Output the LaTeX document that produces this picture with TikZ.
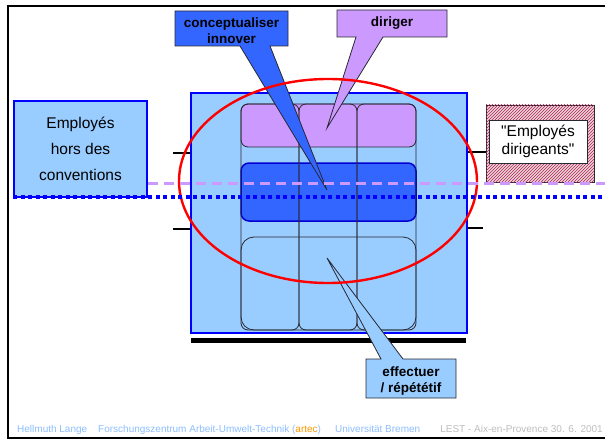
\documentclass[tikz,border=0pt]{standalone}
\usepackage{fontspec}
\setmainfont{Liberation Sans}[Ligatures=TeXOff]
\usepackage{xcolor}
\usepackage{tikz}
\usetikzlibrary{positioning, patterns}
\definecolor{lsBlue}{RGB}{153, 204, 255}
\definecolor{lsDeep}{RGB}{51, 102, 255}
\definecolor{lsLilac}{RGB}{204, 153, 255}
\definecolor{lsPure}{RGB}{0, 0, 255}
\definecolor{lsNavy}{RGB}{0, 0, 210}
\definecolor{lsRed}{RGB}{255, 0, 0}
\definecolor{lsRose}{RGB}{238, 210, 220}
\definecolor{lsHatch}{RGB}{170, 40, 80}
\definecolor{lsEdge}{RGB}{40, 40, 50}
\definecolor{lsFoot}{RGB}{140, 190, 255}
\definecolor{lsOrange}{RGB}{255, 153, 0}
\definecolor{lsGray}{RGB}{190, 190, 190}
\tikzset{
    base/.style={
        font=\fontsize{15.5}{26}\selectfont,
        align=center,
        inner sep=0pt
    },
    panel/.style={
        draw=lsPure,
        line width=1.2pt,
        fill=lsBlue
    },
    column/.style={
        draw=lsEdge,
        line width=0.8pt,
        rounded corners=7pt
    },
    bubble/.style={
        draw=lsEdge,
        line width=0.8pt
    },
    bubbletext/.style={
        font=\bfseries\fontsize{13.5}{16}\selectfont,
        align=center,
        inner sep=0pt
    },
    tick/.style={
        line width=1.6pt,
        color=black
    },
    foot/.style={
        font=\fontsize{10}{12}\selectfont,
        anchor=base west,
        inner sep=0pt
    }
}

\begin{document}
\begin{tikzpicture}[x=1pt, y=-1pt]
  \useasboundingbox (0,0) rectangle (605,441);

  % Frame
  \draw[line width=2pt] (605,6) -- (8,6) -- (8,438) -- (605,438);

  % Outside groups
  \node[panel, base, minimum width=133pt, minimum height=96pt] (hors) at (80.5,149) {Employés\\hors des\\conventions};
  \node[draw=lsEdge, line width=0.8pt, fill=lsRose, minimum width=108pt, minimum height=77pt,
        postaction={pattern=north east lines, pattern color=lsHatch}] (hatch) at (540,143.5) {};
  \node[draw=lsEdge, line width=0.8pt, fill=white, base, font=\fontsize{15.5}{17.5}\selectfont,
        minimum width=98pt, minimum height=43pt] (dirig) at (538,141.5) {"Employés\\dirigeants"};

  % Conventions
  \node[panel, minimum width=276pt, minimum height=240pt] (cadre) at (329,213) {};
  \draw[draw=lsEdge, line width=0.8pt, fill=lsLilac, rounded corners=7pt] (241,104) rectangle (416,147);
  \draw[draw=lsNavy, line width=1.5pt, fill=lsDeep, rounded corners=8pt] (241,163) rectangle (416,221);
  \draw[draw=lsEdge, line width=0.8pt, fill=lsBlue, rounded corners=13pt] (241,237) rectangle (416,330);
  \foreach \xa/\xb in {241/299, 299/357, 357/416}
    \draw[column] (\xa,104) rectangle (\xb,330);

  % Ticks and bar
  \draw[tick] (cadre.west |- 0,153) -- ++(-17,0);
  \draw[tick] (cadre.west |- 0,229) -- ++(-17,0);
  \draw[tick] (cadre.east |- 0,152) -- (hatch.west |- 0,152);
  \draw[tick] (cadre.east |- 0,228) -- ++(15,0);
  \draw[line width=5pt] (191,340.5) -- (466,340.5);

  % Callouts
  \coordinate (tipC) at (327,190);
  \filldraw[bubble, fill=lsDeep] (175,11) -- (288,11) -- (288,46) -- (270,46) -- (tipC) -- (240,46) -- (175,46) -- cycle;
  \node[bubbletext] (concept) at (231.5,31) {conceptualiser\\innover};

  \coordinate (tipD) at (327,128);
  \filldraw[bubble, fill=lsLilac] (337,10) -- (447,10) -- (447,37) -- (383,37) -- (tipD) -- (356,37) -- (337,37) -- cycle;
  \node[bubbletext] (diriger) at (392,23.5) {diriger};

  \coordinate (tipE) at (327,258);
  \filldraw[bubble, fill=lsBlue] (366,359) -- (381,359) -- (tipE) -- (403,359) -- (456,359) -- (456,398) -- (366,398) -- cycle;
  \node[bubbletext] (effect) at (411,381.5) {effectuer\\/ répététif};

  % Ellipse
  \draw[lsRed, line width=2.4pt] (328,181) ellipse [x radius=149pt, y radius=102pt];

  % Lines
  \coordinate (lilacEnd) at (605,183);
  \coordinate (blueEnd) at (605,197);
  \draw[lsLilac, line width=3pt, dash pattern=on 10pt off 6pt] (hors.east |- lilacEnd) -- (lilacEnd);
  \draw[lsPure, line width=4pt, dash pattern=on 4pt off 3.5pt] (hors.south west |- blueEnd) -- (blueEnd);

  % Footer
  \node[foot, text=lsFoot] (auteur) at (17,432.5) {Hellmuth Lange};
  \node[foot, text=lsFoot] (centre) at (98,432.5) {Forschungszentrum Arbeit-Umwelt-Technik (\textcolor{lsOrange}{artec})};
  \node[foot, text=lsFoot] (uni) at (335,432.5) {Universität Bremen};
  \node[foot, text=lsGray, anchor=base east] (lieu) at (603,432.5) {LEST - Aix-en-Provence 30. 6. 2001};
\end{tikzpicture}
\end{document}
